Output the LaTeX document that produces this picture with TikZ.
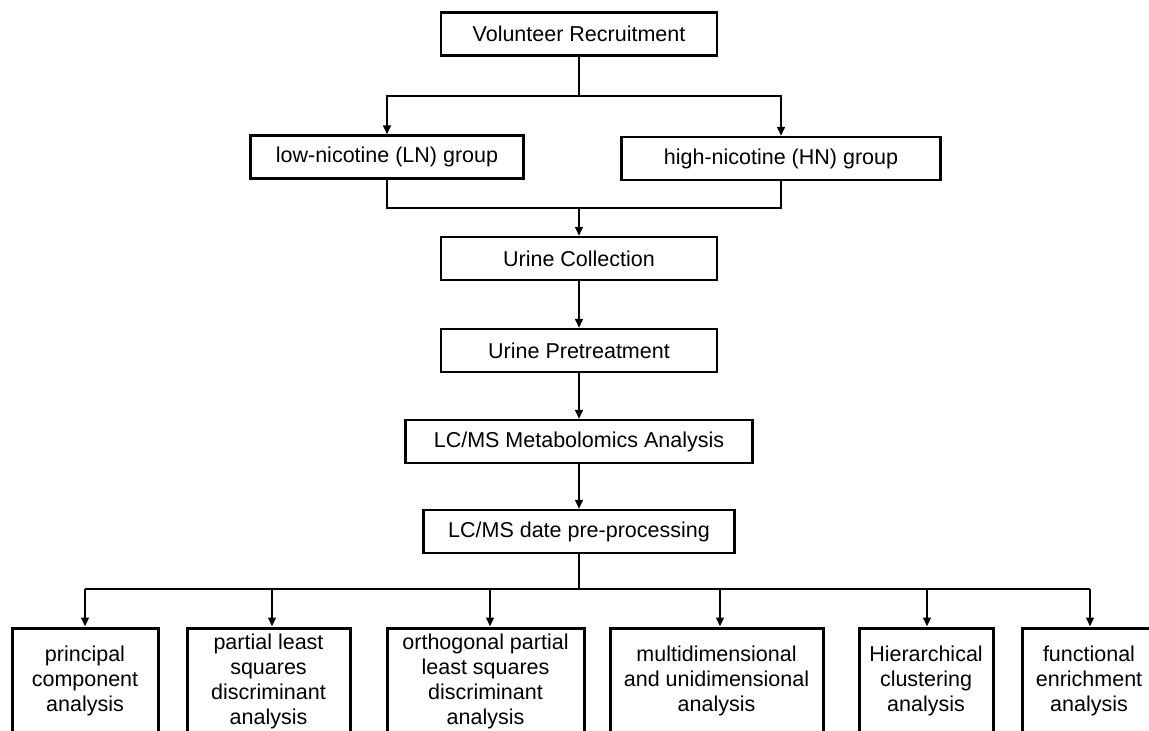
\documentclass[tikz,border=0pt]{standalone}
\usepackage{fontspec}
\setmainfont{Liberation Sans}
\usetikzlibrary{arrows.meta}

\begin{document}
\begin{tikzpicture}[
        x=0.5pt, y=-0.5pt,
        box/.style={draw, line width=1.1pt, minimum height=21.5pt, inner sep=0pt,
            font=\fontsize{10.75pt}{12.5pt}\selectfont},
        lowbox/.style={draw, line width=1.5pt, minimum height=53pt, inner sep=0pt,
            align=center, font=\fontsize{10.75pt}{12.5pt}\selectfont},
        link/.style={line width=1.25pt},
        arrow/.style={link, -{Triangle[length=4.5pt, width=3.8pt]}}
    ]
        \clip (0,0) rectangle (1149,730);

        % Main workflow steps
        \node[box, minimum width=138pt] (recruit) at (579,34) {Volunteer Recruitment};
        \node[box, minimum width=136.5pt] (ln) at (387,157) {low-nicotine (LN) group};
        \node[box, minimum width=159.5pt] (hn) at (781,158.5) {high-nicotine (HN) group};
        \node[box, minimum width=138pt] (collect) at (579,258.5) {Urine Collection};
        \node[box, minimum width=138pt] (pretreat) at (579,350.5) {Urine Pretreatment};
        \node[box, minimum width=173.5pt] (lcms) at (579,441.5) {LC/MS Metabolomics Analysis};
        \node[box, minimum width=155.5pt] (prep) at (579,531.5) {LC/MS date pre-processing};

        % Analysis methods
        \node[lowbox, minimum width=73pt] (b1) at (85,681) {principal\\component\\analysis};
        \node[lowbox, minimum width=81.5pt] (b2) at (268.5,681) {partial least\\squares\\discriminant\\analysis};
        \node[lowbox, minimum width=98.5pt] (b3) at (485.5,681) {orthogonal partial\\least squares\\discriminant\\analysis};
        \node[lowbox, minimum width=106.5pt] (b4) at (716.5,681) {multidimensional\\and unidimensional\\analysis};
        \node[lowbox, minimum width=67pt] (b5) at (926,681) {Hierarchical\\clustering\\analysis};
        \node[lowbox, minimum width=67pt] (b6) at (1089,681) {functional\\enrichment\\analysis};

        % Connectors
        \coordinate (split) at (579,96);
        \coordinate (merge) at (579,208);
        \draw[link] (recruit) -- (split);
        \draw[arrow] (split) -| (ln);
        \draw[arrow] (split) -| (hn);
        \draw[link] (ln) |- (merge);
        \draw[link] (hn) |- (merge);
        \draw[arrow] (merge) -- (collect);
        \draw[arrow] (collect) -- (pretreat);
        \draw[arrow] (pretreat) -- (lcms);
        \draw[arrow] (lcms) -- (prep);

        \coordinate (bus) at (579,589);
        \foreach \x [count=\i] in {85,272,490,720,927,1090}
            \coordinate (t\i) at (\x,589);
        \draw[link] (prep) -- (bus);
        \draw[link] (t1) -- (t6);
        \foreach \i in {1,...,6}
            \draw[arrow] (t\i) -- (t\i |- b\i.north);
    \end{tikzpicture}
\end{document}
